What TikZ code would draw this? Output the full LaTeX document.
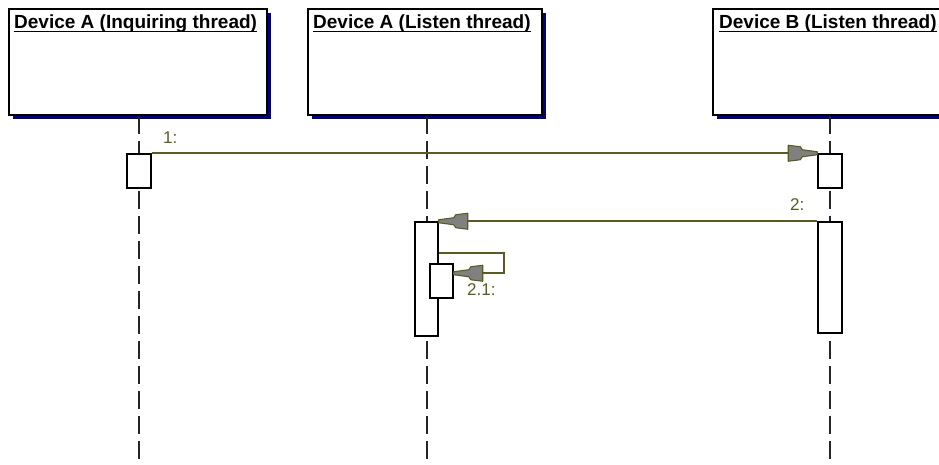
\documentclass[tikz,border=0pt]{standalone}
\usepackage{fontspec}
\setmainfont{Liberation Sans}
\usetikzlibrary{decorations.markings,shadows}
\definecolor{msgcol}{HTML}{5A5A22}
\definecolor{headgray}{HTML}{808080}
\definecolor{navyshadow}{HTML}{000080}
\begin{document}
\begin{tikzpicture}[x=1pt,y=-1pt,
  headbox/.style={draw=black, line width=1.7pt, fill=white, inner sep=0pt, anchor=north west,
    minimum height=106pt,
    drop shadow={shadow xshift=4pt, shadow yshift=-4pt, fill=navyshadow, opacity=1}},
  headtext/.style={inner sep=0pt, anchor=base west, font=\fontsize{19}{19}\selectfont\bfseries},
  actbox/.style={draw=black, line width=1.5pt, fill=white, inner sep=0pt, minimum width=23pt},
  lifeline/.style={draw=black!85, line width=1.2pt, dash pattern=on 18pt off 7pt},
  msgline/.style={draw=msgcol, line width=1.7pt, postaction={decorate},
    decoration={markings, mark=at position 1 with {
      \filldraw[fill=headgray, draw=msgcol, line width=1.1pt, line join=round]
        (0,1.5) -- (-15,3.5) -- (-17,6.5) -- (-29,8) -- (-29,-8) -- (-17,-6.5) -- (-15,-3.5) -- (0,-1.5) -- cycle;}}},
  msglabel/.style={inner sep=0pt, anchor=base west, text=msgcol, font=\fontsize{17}{17}\selectfont}
]
\useasboundingbox (0,0) rectangle (939,464);
\clip (0,0) rectangle (939,464);
\fill[white] (0,0) rectangle (939,464);

% header boxes
\node[headbox, minimum width=258pt] (hA) at (8,8) {};
\node[headbox, minimum width=234pt] (hL) at (307,8) {};
\node[headbox, minimum width=260pt] (hB) at (712,8) {};

\node[headtext] (tA) at (14,28) {Device A (Inquiring thread)};
\node[headtext] (tL) at (313,28) {Device A (Listen thread)};
\node[headtext] (tB) at (719,28) {Device B (Listen thread)};
\foreach \t in {tA,tL,tB}
  \draw[line width=1.5pt] ([yshift=-3.5pt]\t.base west) -- ([yshift=-3.5pt]\t.base east);

% lifeline anchors
\coordinate (xA) at (139,0);
\coordinate (xL) at (427,0);
\coordinate (xB) at (830,0);
\coordinate (bottom) at (0,464);

\draw[lifeline] (xA |- hA.south) -- (xA |- bottom);
\draw[lifeline] (xL |- hL.south) -- (xL |- bottom);
\draw[lifeline] (xB |- hB.south) -- (xB |- bottom);

% activation boxes
\node[actbox, minimum width=24pt, minimum height=34pt] (a1) at (139,171) {};
\node[actbox, minimum width=24pt, minimum height=34pt] (b1) at (830,171) {};
\node[actbox, minimum width=24pt, minimum height=111pt] (b2) at (830,277.5) {};
\node[actbox, minimum height=114pt] (l2) at (426.5,279) {};
\node[actbox, minimum height=34pt] (l2n) at (441.5,281) {};

% messages
\draw[msgline] (a1.north east) -- (b1.north west);
\draw[msgline] (b2.north west) -- (l2.north east);
\draw[msgline] ([yshift=-32pt]l2.north east) -- ++(65,0) |- ([yshift=-10pt]l2n.north east);

\node[msglabel] (m1) at (163,143) {1:};
\node[msglabel] (m2) at (790,210) {2:};
\node[msglabel] (m21) at (467,295) {2.1:};
\end{tikzpicture}
\end{document}
